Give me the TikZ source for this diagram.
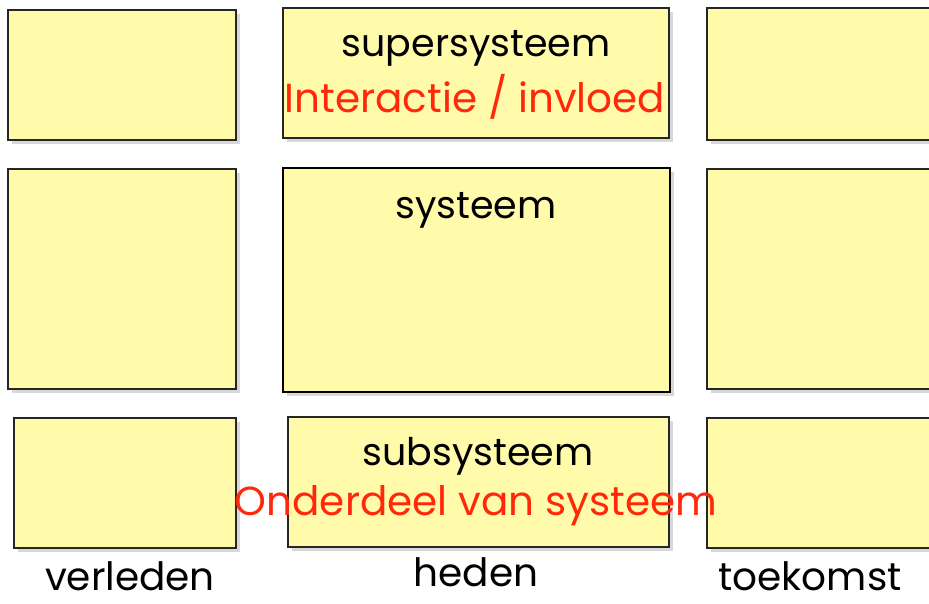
\documentclass[tikz,border=0pt]{standalone}
\usepackage{fontspec}
\setmainfont{Poppins}
\usetikzlibrary{shadows}
\usetikzlibrary{positioning}
\definecolor{boxyellow}{RGB}{255,251,170}
\definecolor{textred}{RGB}{255,40,10}
\tikzset{
  box/.style={draw=black!85, line width=1.2pt, fill=boxyellow,
    drop shadow={shadow xshift=4pt, shadow yshift=-4pt, opacity=0.25, fill=black!60},
    inner sep=0pt},
  mainbox/.style={box, draw=black, line width=2.6pt},
  bigtext/.style={font=\fontsize{38}{44}\selectfont, inner sep=0pt},
  redtext/.style={font=\fontsize{40.5}{46}\selectfont, inner sep=0pt, text=textred},
  timetext/.style={font=\fontsize{39}{46}\selectfont, inner sep=0pt}
}
\begin{document}
\begin{tikzpicture}[x=1pt,y=-1pt]
\useasboundingbox[fill=white] (0,0) rectangle (929,603);

%supersysteem
\node[box, minimum width=228pt, minimum height=130pt] (pastsup) at (122,75) {};
\node[box, minimum width=386pt, minimum height=130pt] (super) at (476,73) {};
\node[box, minimum width=228pt, minimum height=132pt] (futsup) at (821,74) {};
\node[bigtext, anchor=base] (supertxt) at (476,56) {supersysteem};
\node[redtext, anchor=base] (interact) at (475,112) {Interactie / invloed};

%systeem
\node[box, minimum width=228pt, minimum height=220pt] (pastsys) at (122,279) {};
\node[mainbox, minimum width=387pt, minimum height=224pt] (sys) at (476.5,280) {};
\node[box, minimum width=228pt, minimum height=220pt] (futsys) at (821,279) {};
\node[bigtext, anchor=base] (systxt) at (476,218) {systeem};

%subsysteem
\node[box, minimum width=222pt, minimum height=130pt] (pastsub) at (125,483) {};
\node[box, minimum width=381pt, minimum height=130pt] (sub) at (478.5,482) {};
\node[box, minimum width=228pt, minimum height=130pt] (futsub) at (821,483) {};
\node[bigtext, anchor=base] (subtxt) at (478,465) {subsysteem};
\node[redtext, anchor=base] (onderdeel) at (476,515) {Onderdeel van systeem};

%tijd
\node[timetext, anchor=base] (verleden) at (130,590) {verleden};
\node[timetext, anchor=base] (heden) at (476,586) {heden};
\node[timetext, anchor=base] (toekomst) at (810,590) {toekomst};

\end{tikzpicture}
\end{document}
